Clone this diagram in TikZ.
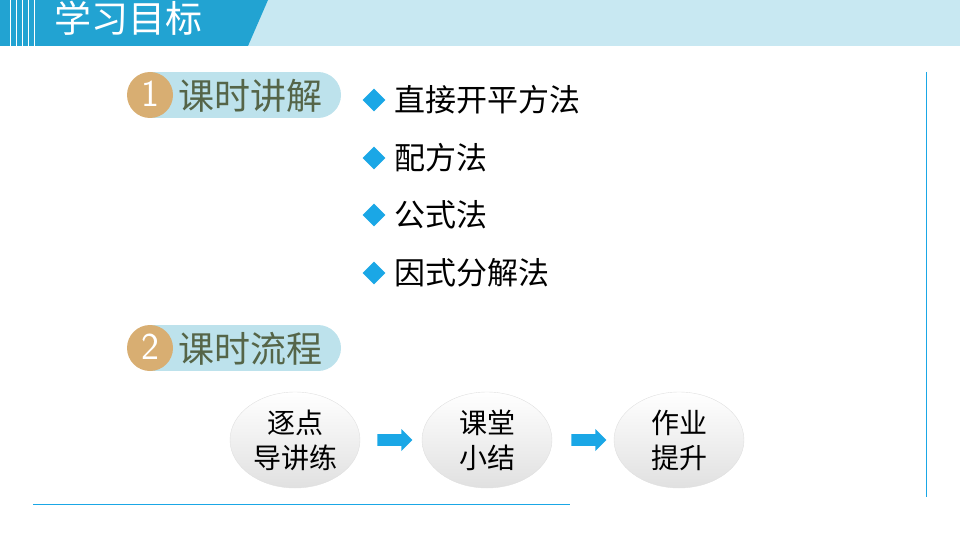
\documentclass[tikz,border=0pt]{standalone}
\usepackage{fontspec}
\newfontfamily\cjk{Noto Sans CJK SC}
\usetikzlibrary{shapes.arrows,shapes.geometric}
\definecolor{hdark}{HTML}{22A3D2}
\definecolor{hlight}{HTML}{C8E8F2}
\definecolor{pill}{HTML}{BDE2EC}
\definecolor{gold}{HTML}{D8AE72}
\definecolor{olive}{HTML}{556548}
\definecolor{bblue}{HTML}{1AA7E6}
\tikzset{
 pilltext/.style={text=olive,font=\cjk\fontsize{36}{38}\selectfont,anchor=west,inner sep=0},
 bullettext/.style={font=\cjk\fontsize{31}{33}\selectfont,anchor=west,inner sep=0},
 dia/.style={fill=bblue,minimum size=16pt,inner sep=0,rotate=45},
 oval/.style={ellipse,draw=black!12,top color=white,bottom color=black!12,minimum width=130pt,minimum height=96pt,align=center,font=\cjk\fontsize{28}{35}\selectfont},
 barrow/.style={single arrow,fill=bblue,minimum height=35pt,minimum width=22pt,single arrow head extend=2pt,inner sep=2pt,draw=none},
 numtext/.style={white,font=\sffamily\fontsize{38}{38}\selectfont}
}
\begin{document}
\begin{tikzpicture}[x=1pt,y=-1pt]
\useasboundingbox (0,0) rectangle (960,540);
\fill[hlight] (0,0) rectangle (960,46);
\fill[hdark] (0,0) -- (268,0) -- (248,46) -- (0,46) -- cycle;
\foreach \x in {10,16,22,28,34} \draw[white,line width=0.8] (\x,0) -- (\x,46);
\node[text=white,font=\cjk\fontsize{37}{38}\selectfont,anchor=west,inner sep=0] (title) at (54,18) {学习目标};
% badge 1
\fill[pill] (150,72) rectangle (318,118);
\fill[pill] (318,95) circle (23);
\fill[gold] (150,95) circle (23);
\node[numtext] (n1) at (150,94) {1};
\node[pilltext] (t1) at (178,96) {课时讲解};
% bullets
\foreach \y/\t [count=\i] in {100/直接开平方法,158/配方法,215/公式法,273/因式分解法}{
 \node[dia] (d\i) at (374,\y) {};
 \node[bullettext] (b\i) at (394,\y) {\t};
}
% badge 2
\fill[pill] (150,325) rectangle (318,371);
\fill[pill] (318,348) circle (23);
\fill[gold] (150,348) circle (23);
\node[numtext] (n2) at (150,347) {2};
\node[pilltext] (t2) at (178,349) {课时流程};
% flow
\node[oval] (e1) at (295,440) {逐点\\导讲练};
\node[oval] (e2) at (487,440) {课堂\\小结};
\node[oval] (e3) at (679,440) {作业\\提升};
\node[barrow] (a1) at (392,440) {};
\node[barrow] (a2) at (586,440) {};
% lines
\coordinate (l1) at (33,504); \coordinate (l2) at (570,504);
\draw[bblue,line width=1] (l1) -- (l2);
\coordinate (r1) at (926,72); \coordinate (r2) at (926,497);
\draw[bblue,line width=1] (r1) -- (r2);
\end{tikzpicture}
\end{document}
